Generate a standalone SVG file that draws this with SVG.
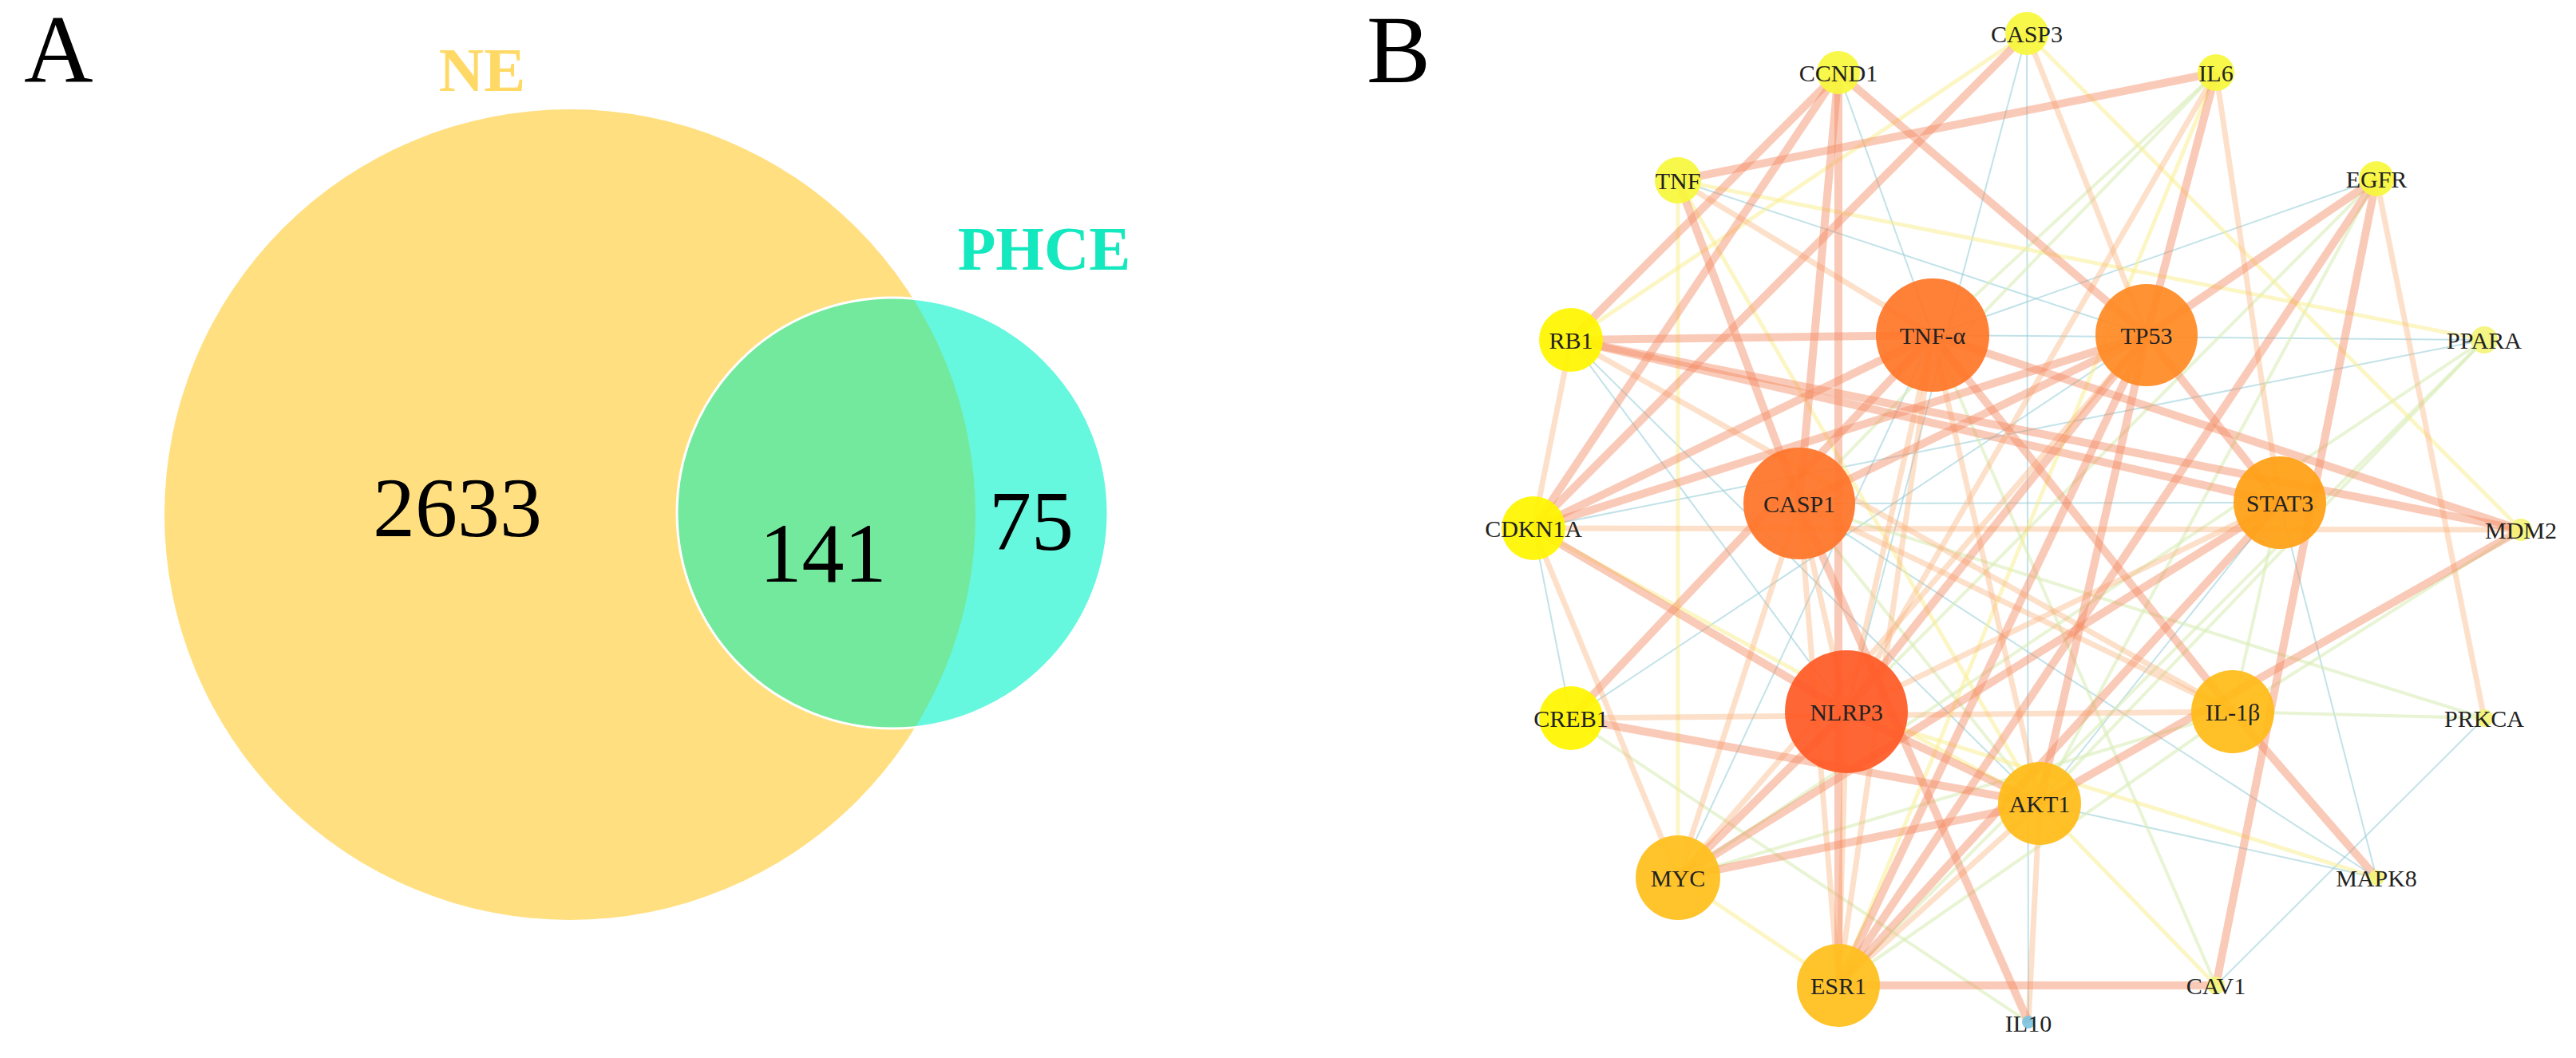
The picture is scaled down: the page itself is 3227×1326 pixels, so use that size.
<svg xmlns="http://www.w3.org/2000/svg" width="3227" height="1326" viewBox="0 0 3227 1326">
<style>
.lbl{font-family:"Liberation Serif","Times New Roman",serif;font-size:30px;fill:#222;text-anchor:middle;dominant-baseline:central}
.num{font-family:"Liberation Serif","Times New Roman",serif;font-size:106px;fill:#000;text-anchor:middle}
.pan{font-family:"Liberation Serif","Times New Roman",serif;font-size:120px;fill:#000}
.set{font-family:"Liberation Serif","Times New Roman",serif;font-size:78px;font-weight:bold;text-anchor:middle}
.t{stroke:#F58A62;stroke-opacity:.45;stroke-width:10}
.m{stroke:#FBB27A;stroke-opacity:.4;stroke-width:7}
.y{stroke:#FAEE8C;stroke-opacity:.5;stroke-width:5}
.g{stroke:#D8ECB8;stroke-opacity:.6;stroke-width:4}
.b{stroke:#9ACFD8;stroke-opacity:.6;stroke-width:2}
.n{fill-opacity:.93}
</style>
<defs>
<clipPath id="bigClip"><circle cx="714" cy="645" r="508"/></clipPath>
</defs>
<rect width="3227" height="1326" fill="#fff"/>
<text class="pan" x="30" y="103">A</text>
<text class="pan" x="1712" y="103">B</text>
<g id="venn">
<circle id="set-NE" cx="714" cy="645" r="508" fill="#FFDF80"/>
<circle id="set-PHCE" cx="1118" cy="643" r="270" fill="#66F7DF"/>
<circle cx="1118" cy="643" r="270" fill="#73E99E" clip-path="url(#bigClip)"/>
<circle cx="1118" cy="643" r="270" fill="none" stroke="#fff" stroke-width="3"/>
<text class="set" x="604" y="114" fill="#FFD966">NE</text>
<text class="set" x="1308" y="338" fill="#14E8BE">PHCE</text>
<text class="num" x="573" y="672">2633</text>
<text class="num" x="1031" y="729">141</text>
<text class="num" x="1292" y="689">75</text>
</g>
<g id="edges" fill="none">
<g class="b">
<line x1="2102" y1="226" x2="2689" y2="420"/>
<line x1="2303" y1="91" x2="2421" y2="420"/>
<line x1="2539" y1="42" x2="2541" y2="1281"/>
<line x1="2539" y1="42" x2="2313" y2="892"/>
<line x1="2977" y1="224" x2="2421" y2="420"/>
<line x1="2421" y1="420" x2="3112" y2="426"/>
<line x1="3112" y1="426" x2="1921" y2="662"/>
<line x1="3112" y1="900" x2="2776" y2="1235"/>
<line x1="2856" y1="630" x2="2977" y2="1100"/>
<line x1="2254" y1="631" x2="2977" y2="1100"/>
<line x1="1921" y1="662" x2="1968" y2="900"/>
<line x1="1968" y1="426" x2="2313" y2="892"/>
<line x1="1968" y1="900" x2="2689" y2="420"/>
<line x1="2102" y1="1100" x2="2421" y2="420"/>
<line x1="2856" y1="630" x2="2555" y2="1007"/>
<line x1="1968" y1="426" x2="2555" y2="1007"/>
<line x1="2555" y1="1007" x2="2977" y2="1100"/>
<line x1="2254" y1="631" x2="2856" y2="630"/>
</g>
<g class="g">
<line x1="2776" y1="91" x2="2421" y2="420"/>
<line x1="3112" y1="426" x2="2555" y2="1007"/>
<line x1="3112" y1="426" x2="2303" y2="1235"/>
<line x1="3158" y1="664" x2="2797" y2="892"/>
<line x1="2797" y1="892" x2="3112" y2="900"/>
<line x1="2254" y1="631" x2="3112" y2="900"/>
<line x1="2421" y1="420" x2="2776" y2="1235"/>
<line x1="1968" y1="900" x2="2541" y2="1281"/>
<line x1="2313" y1="892" x2="2977" y2="224"/>
<line x1="2555" y1="1007" x2="2254" y2="631"/>
<line x1="2797" y1="892" x2="2102" y2="1100"/>
<line x1="2797" y1="892" x2="2303" y2="1235"/>
<line x1="2797" y1="892" x2="2856" y2="630"/>
<line x1="2977" y1="224" x2="2555" y2="1007"/>
<line x1="3112" y1="426" x2="2102" y2="1100"/>
<line x1="2776" y1="91" x2="2254" y2="631"/>
</g>
<g class="y">
<line x1="2102" y1="226" x2="3112" y2="426"/>
<line x1="2102" y1="226" x2="2102" y2="1100"/>
<line x1="2539" y1="42" x2="1968" y2="426"/>
<line x1="2539" y1="42" x2="3158" y2="664"/>
<line x1="2313" y1="892" x2="2977" y2="1100"/>
<line x1="2555" y1="1007" x2="2776" y2="1235"/>
<line x1="2102" y1="1100" x2="2303" y2="1235"/>
<line x1="2776" y1="91" x2="2303" y2="1235"/>
<line x1="1921" y1="662" x2="2555" y2="1007"/>
<line x1="2102" y1="226" x2="2555" y2="1007"/>
</g>
<g class="m">
<line x1="2102" y1="226" x2="2421" y2="420"/>
<line x1="2539" y1="42" x2="2689" y2="420"/>
<line x1="2776" y1="91" x2="2856" y2="630"/>
<line x1="2776" y1="91" x2="2313" y2="892"/>
<line x1="2977" y1="224" x2="3112" y2="900"/>
<line x1="1921" y1="662" x2="3158" y2="664"/>
<line x1="1968" y1="900" x2="2797" y2="892"/>
<line x1="2555" y1="1007" x2="2541" y2="1281"/>
<line x1="1921" y1="662" x2="2102" y2="1100"/>
<line x1="1968" y1="426" x2="1921" y2="662"/>
<line x1="1968" y1="426" x2="2797" y2="892"/>
<line x1="2102" y1="1100" x2="2254" y2="631"/>
<line x1="2303" y1="1235" x2="2313" y2="892"/>
<line x1="2303" y1="1235" x2="2421" y2="420"/>
<line x1="2303" y1="1235" x2="2254" y2="631"/>
<line x1="2303" y1="1235" x2="2555" y2="1007"/>
<line x1="2313" y1="892" x2="2421" y2="420"/>
<line x1="2313" y1="892" x2="2254" y2="631"/>
<line x1="2313" y1="892" x2="2856" y2="630"/>
<line x1="2555" y1="1007" x2="2421" y2="420"/>
<line x1="2689" y1="420" x2="2102" y2="1100"/>
<line x1="2254" y1="631" x2="2797" y2="892"/>
</g>
<g class="t">
<line x1="2776" y1="91" x2="2102" y2="226"/>
<line x1="2102" y1="226" x2="2254" y2="631"/>
<line x1="2303" y1="91" x2="1968" y2="426"/>
<line x1="2303" y1="91" x2="1921" y2="662"/>
<line x1="2303" y1="91" x2="2303" y2="1235"/>
<line x1="2303" y1="91" x2="2689" y2="420"/>
<line x1="2303" y1="91" x2="2254" y2="631"/>
<line x1="2539" y1="42" x2="1921" y2="662"/>
<line x1="2776" y1="91" x2="2689" y2="420"/>
<line x1="2977" y1="224" x2="2689" y2="420"/>
<line x1="2977" y1="224" x2="2303" y2="1235"/>
<line x1="2977" y1="224" x2="2776" y2="1235"/>
<line x1="1968" y1="426" x2="3158" y2="664"/>
<line x1="2421" y1="420" x2="3158" y2="664"/>
<line x1="3158" y1="664" x2="2555" y2="1007"/>
<line x1="2421" y1="420" x2="2797" y2="892"/>
<line x1="2797" y1="892" x2="2977" y2="1100"/>
<line x1="2303" y1="1235" x2="2776" y2="1235"/>
<line x1="2254" y1="631" x2="2541" y2="1281"/>
<line x1="1921" y1="662" x2="2313" y2="892"/>
<line x1="1921" y1="662" x2="2421" y2="420"/>
<line x1="1921" y1="662" x2="2689" y2="420"/>
<line x1="1968" y1="426" x2="2421" y2="420"/>
<line x1="1968" y1="426" x2="2856" y2="630"/>
<line x1="1968" y1="900" x2="2421" y2="420"/>
<line x1="1968" y1="900" x2="2555" y2="1007"/>
<line x1="2102" y1="1100" x2="2313" y2="892"/>
<line x1="2102" y1="1100" x2="2555" y2="1007"/>
<line x1="2102" y1="1100" x2="2856" y2="630"/>
<line x1="2303" y1="1235" x2="2689" y2="420"/>
<line x1="2303" y1="1235" x2="2856" y2="630"/>
<line x1="2313" y1="892" x2="2555" y2="1007"/>
<line x1="2313" y1="892" x2="2689" y2="420"/>
<line x1="2689" y1="420" x2="2856" y2="630"/>
<line x1="2254" y1="631" x2="2689" y2="420"/>
<line x1="2689" y1="420" x2="2555" y2="1007"/>
</g>
</g>
<g id="node-CASP3"><circle class="n" cx="2539" cy="42" r="27" fill="#F7F73C"/><text class="lbl" x="2539" y="42">CASP3</text></g>
<g id="node-IL6"><circle class="n" cx="2776" cy="91" r="23" fill="#F7F73C"/><text class="lbl" x="2776" y="91">IL6</text></g>
<g id="node-EGFR"><circle class="n" cx="2977" cy="224" r="22" fill="#F7F73C"/><text class="lbl" x="2977" y="224">EGFR</text></g>
<g id="node-PPARA"><circle class="n" cx="3112" cy="426" r="17" fill="#F4F47A"/><text class="lbl" x="3112" y="426">PPARA</text></g>
<g id="node-MDM2"><circle class="n" cx="3158" cy="664" r="14" fill="#F4F47A"/><text class="lbl" x="3158" y="664">MDM2</text></g>
<g id="node-PRKCA"><circle class="n" cx="3112" cy="900" r="11" fill="#F4F47A"/><text class="lbl" x="3112" y="900">PRKCA</text></g>
<g id="node-MAPK8"><circle class="n" cx="2977" cy="1100" r="10" fill="#F4F47A"/><text class="lbl" x="2977" y="1100">MAPK8</text></g>
<g id="node-CAV1"><circle class="n" cx="2776" cy="1235" r="11" fill="#F4F47A"/><text class="lbl" x="2776" y="1235">CAV1</text></g>
<g id="node-IL10"><circle class="n" cx="2541" cy="1281" r="8" fill="#7EC4E0"/><text class="lbl" x="2541" y="1282">IL10</text></g>
<g id="node-ESR1"><circle class="n" cx="2303" cy="1235" r="52" fill="#FFC01C"/><text class="lbl" x="2303" y="1235">ESR1</text></g>
<g id="node-MYC"><circle class="n" cx="2102" cy="1100" r="53" fill="#FFC01C"/><text class="lbl" x="2102" y="1100">MYC</text></g>
<g id="node-CREB1"><circle class="n" cx="1968" cy="900" r="40" fill="#FFF500"/><text class="lbl" x="1968" y="900">CREB1</text></g>
<g id="node-CDKN1A"><circle class="n" cx="1921" cy="662" r="40" fill="#FFF500"/><text class="lbl" x="1921" y="662">CDKN1A</text></g>
<g id="node-RB1"><circle class="n" cx="1968" cy="426" r="40" fill="#FFF500"/><text class="lbl" x="1968" y="426">RB1</text></g>
<g id="node-TNF"><circle class="n" cx="2102" cy="226" r="29" fill="#F7F73C"/><text class="lbl" x="2102" y="226">TNF</text></g>
<g id="node-CCND1"><circle class="n" cx="2303" cy="91" r="27" fill="#F7F73C"/><text class="lbl" x="2303" y="91">CCND1</text></g>
<g id="node-TNFa"><circle class="n" cx="2421" cy="420" r="71" fill="#FF7628"/><text class="lbl" x="2421" y="420">TNF-α</text></g>
<g id="node-TP53"><circle class="n" cx="2689" cy="420" r="64" fill="#FF8A24"/><text class="lbl" x="2689" y="420">TP53</text></g>
<g id="node-STAT3"><circle class="n" cx="2856" cy="630" r="58" fill="#FFA014"/><text class="lbl" x="2856" y="630">STAT3</text></g>
<g id="node-IL1b"><circle class="n" cx="2797" cy="892" r="52" fill="#FFBB18"/><text class="lbl" x="2797" y="892">IL-1β</text></g>
<g id="node-AKT1"><circle class="n" cx="2555" cy="1007" r="52" fill="#FFBB18"/><text class="lbl" x="2555" y="1007">AKT1</text></g>
<g id="node-NLRP3"><circle class="n" cx="2313" cy="892" r="77" fill="#FF5A26"/><text class="lbl" x="2313" y="892">NLRP3</text></g>
<g id="node-CASP1"><circle class="n" cx="2254" cy="631" r="70" fill="#FF7428"/><text class="lbl" x="2254" y="631">CASP1</text></g>
</svg>
